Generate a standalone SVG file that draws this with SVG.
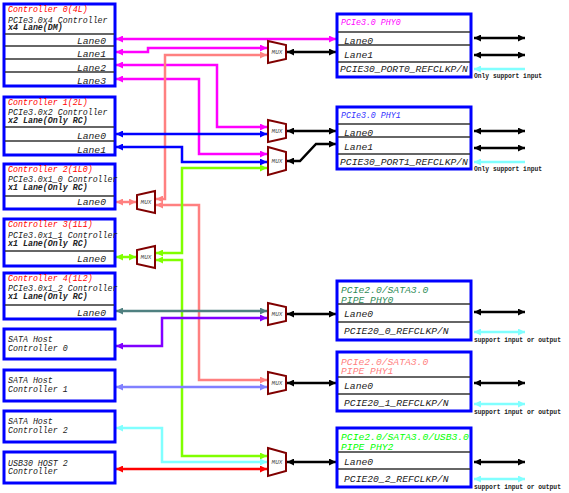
<svg xmlns="http://www.w3.org/2000/svg" width="569" height="493" viewBox="0 0 569 493">
<style>
.box{fill:#fff;stroke:#0000ff;stroke-width:3}
.div{stroke:#333;stroke-width:1.3}
.t{font-family:"Liberation Mono","DejaVu Sans Mono",monospace;font-style:italic;font-size:8.3px;fill:#222}
.b{font-weight:bold}
.red{fill:#ff0000}
.ln{font-family:"Liberation Mono","DejaVu Sans Mono",monospace;font-style:italic;font-size:9.7px;fill:#222}
.end{text-anchor:end}
.note{font-family:"Liberation Mono","DejaVu Sans Mono",monospace;font-size:6.3px;font-weight:bold;fill:#222}
.mux{fill:#fff;stroke:#800000;stroke-width:2}
.mt{font-family:"Liberation Mono","DejaVu Sans Mono",monospace;font-style:italic;font-size:6px;fill:#444;text-anchor:middle}
.c{fill:none;stroke-width:2.5}
.k{stroke:#000;marker-start:url(#ak);marker-end:url(#ak)}
.mag{stroke:#ff00ff;marker-start:url(#amag);marker-end:url(#amag)}
.sal{stroke:#ff8080;marker-start:url(#asal);marker-end:url(#asal)}
.blu{stroke:#0000ff;marker-start:url(#ablu);marker-end:url(#ablu)}
.grn{stroke:#80ff00;marker-start:url(#agrn);marker-end:url(#agrn)}
.tea{stroke:#4f8080;marker-start:url(#atea);marker-end:url(#atea)}
.pur{stroke:#8000ff;marker-start:url(#apur);marker-end:url(#apur)}
.lav{stroke:#8080ff;marker-start:url(#alav);marker-end:url(#alav)}
.cya{stroke:#80ffff;marker-start:url(#acya);marker-end:url(#acya)}
.cyi{stroke:#80ffff;marker-start:url(#acya)}
.rd{stroke:#ff0000;marker-start:url(#ard);marker-end:url(#ard)}
</style>
<defs>
<marker id="ak" viewBox="0 0 10 10" refX="10" refY="5" markerWidth="7" markerHeight="7" markerUnits="userSpaceOnUse" orient="auto-start-reverse"><path d="M0,0L10,5L0,10z" fill="#000"/></marker>
<marker id="amag" viewBox="0 0 10 10" refX="10" refY="5" markerWidth="7" markerHeight="7" markerUnits="userSpaceOnUse" orient="auto-start-reverse"><path d="M0,0L10,5L0,10z" fill="#ff00ff"/></marker>
<marker id="asal" viewBox="0 0 10 10" refX="10" refY="5" markerWidth="7" markerHeight="7" markerUnits="userSpaceOnUse" orient="auto-start-reverse"><path d="M0,0L10,5L0,10z" fill="#ff8080"/></marker>
<marker id="ablu" viewBox="0 0 10 10" refX="10" refY="5" markerWidth="7" markerHeight="7" markerUnits="userSpaceOnUse" orient="auto-start-reverse"><path d="M0,0L10,5L0,10z" fill="#0000ff"/></marker>
<marker id="agrn" viewBox="0 0 10 10" refX="10" refY="5" markerWidth="7" markerHeight="7" markerUnits="userSpaceOnUse" orient="auto-start-reverse"><path d="M0,0L10,5L0,10z" fill="#80ff00"/></marker>
<marker id="atea" viewBox="0 0 10 10" refX="10" refY="5" markerWidth="7" markerHeight="7" markerUnits="userSpaceOnUse" orient="auto-start-reverse"><path d="M0,0L10,5L0,10z" fill="#4f8080"/></marker>
<marker id="apur" viewBox="0 0 10 10" refX="10" refY="5" markerWidth="7" markerHeight="7" markerUnits="userSpaceOnUse" orient="auto-start-reverse"><path d="M0,0L10,5L0,10z" fill="#8000ff"/></marker>
<marker id="alav" viewBox="0 0 10 10" refX="10" refY="5" markerWidth="7" markerHeight="7" markerUnits="userSpaceOnUse" orient="auto-start-reverse"><path d="M0,0L10,5L0,10z" fill="#8080ff"/></marker>
<marker id="acya" viewBox="0 0 10 10" refX="10" refY="5" markerWidth="7" markerHeight="7" markerUnits="userSpaceOnUse" orient="auto-start-reverse"><path d="M0,0L10,5L0,10z" fill="#80ffff"/></marker>
<marker id="ard" viewBox="0 0 10 10" refX="10" refY="5" markerWidth="7" markerHeight="7" markerUnits="userSpaceOnUse" orient="auto-start-reverse"><path d="M0,0L10,5L0,10z" fill="#ff0000"/></marker>
</defs>
<rect width="569" height="493" fill="#fff"/>

<g id="connectors">
<path class="c mag" d="M116,39H336"/>
<path class="c mag" d="M116,52H148V48H267"/>
<path class="c mag" d="M116,65H217V127H267"/>
<path class="c mag" d="M116,79H199V154H267"/>
<path class="c sal" d="M267,55H165V199H156"/>
<path class="c sal" d="M136,202H116"/>
<path class="c sal" d="M156,205H199V380H267"/>
<path class="c blu" d="M116,134H267"/>
<path class="c blu" d="M116,147H182V162H267"/>
<path class="c grn" d="M267,168H182V253H156"/>
<path class="c grn" d="M136,257H116"/>
<path class="c grn" d="M156,260H182V456H267"/>
<path class="c tea" d="M116,311H267"/>
<path class="c pur" d="M267,318H162V346H116"/>
<path class="c lav" d="M116,387H267"/>
<path class="c cya" d="M116,428H162V462H267"/>
<path class="c rd" d="M116,469H267"/>
<path class="c k" d="M287,52H336"/>
<path class="c k" d="M287,131H336"/>
<path class="c k" d="M287,161H300L316,144H336"/>
<path class="c k" d="M287,314H336"/>
<path class="c k" d="M287,383H336"/>
<path class="c k" d="M287,462H336"/>
<path class="c k" d="M474,38H525"/>
<path class="c k" d="M474,55H525"/>
<path class="c cyi" d="M474,69H525"/>
<path class="c k" d="M474,131H525"/>
<path class="c k" d="M474,148H525"/>
<path class="c cyi" d="M474,162H525"/>
<path class="c k" d="M474,312H525"/>
<path class="c cya" d="M474,332H525"/>
<path class="c k" d="M474,383H525"/>
<path class="c cya" d="M474,404H525"/>
<path class="c k" d="M474,462H525"/>
<path class="c cya" d="M474,479H525"/>
</g>

<g id="ctrl0">
<rect class="box" x="4" y="4" width="111" height="82"/>
<line class="div" x1="5" y1="34" x2="114" y2="34"/>
<line class="div" x1="5" y1="46" x2="114" y2="46"/>
<line class="div" x1="5" y1="59" x2="114" y2="59"/>
<line class="div" x1="5" y1="72" x2="114" y2="72"/>
<text class="t red" x="8" y="11.5">Controller 0(4L)</text>
<text class="t" x="8" y="22.5">PCIe3.0x4 Controller</text>
<text class="t b" x="8" y="30">x4 Lane(DM)</text>
<text class="ln end" x="106" y="44">Lane0</text>
<text class="ln end" x="106" y="57">Lane1</text>
<text class="ln end" x="106" y="70.5">Lane2</text>
<text class="ln end" x="106" y="84">Lane3</text>
</g>
<g id="ctrl1">
<rect class="box" x="4" y="97" width="111" height="58"/>
<line class="div" x1="5" y1="127" x2="114" y2="127"/>
<line class="div" x1="5" y1="141" x2="114" y2="141"/>
<text class="t red" x="8" y="104.5">Controller 1(2L)</text>
<text class="t" x="8" y="115">PCIe3.0x2 Controller</text>
<text class="t b" x="8" y="122.5">x2 Lane(Only RC)</text>
<text class="ln end" x="106" y="138.5">Lane0</text>
<text class="ln end" x="106" y="152.5">Lane1</text>
</g>
<g id="ctrl2">
<rect class="box" x="4" y="164" width="111" height="45"/>
<line class="div" x1="5" y1="196" x2="114" y2="196"/>
<text class="t red" x="8" y="172">Controller 2(1L0)</text>
<text class="t" x="8" y="182">PCIe3.0x1_0 Controller</text>
<text class="t b" x="8" y="190">x1 Lane(Only RC)</text>
<text class="ln end" x="106" y="204.5">Lane0</text>
</g>
<g id="ctrl3">
<rect class="box" x="4" y="219" width="111" height="47"/>
<line class="div" x1="5" y1="251" x2="114" y2="251"/>
<text class="t red" x="8" y="227">Controller 3(1L1)</text>
<text class="t" x="8" y="238">PCIe3.0x1_1 Controller</text>
<text class="t b" x="8" y="246">x1 Lane(Only RC)</text>
<text class="ln end" x="106" y="261.5">Lane0</text>
</g>
<g id="ctrl4">
<rect class="box" x="4" y="273" width="111" height="46"/>
<line class="div" x1="5" y1="305" x2="114" y2="305"/>
<text class="t red" x="8" y="280.5">Controller 4(1L2)</text>
<text class="t" x="8" y="291">PCIe3.0x1_2 Controller</text>
<text class="t b" x="8" y="299">x1 Lane(Only RC)</text>
<text class="ln end" x="106" y="316">Lane0</text>
</g>
<g id="sata0">
<rect class="box" x="4" y="329" width="111" height="30"/>
<text class="t" x="8" y="342">SATA Host</text>
<text class="t" x="8" y="350.5">Controller 0</text>
</g>
<g id="sata1">
<rect class="box" x="4" y="370" width="111" height="31"/>
<text class="t" x="8" y="383">SATA Host</text>
<text class="t" x="8" y="391.5">Controller 1</text>
</g>
<g id="sata2">
<rect class="box" x="4" y="411" width="111" height="31"/>
<text class="t" x="8" y="424">SATA Host</text>
<text class="t" x="8" y="432.5">Controller 2</text>
</g>
<g id="usb30">
<rect class="box" x="4" y="452" width="111" height="31"/>
<text class="t" x="8" y="465.5">USB30 HOST 2</text>
<text class="t" x="8" y="474">Controller</text>
</g>

<g id="mux0"><polygon class="mux" points="268,41 286,45 286,59 268,63"/><text class="mt" x="277" y="54">MUX</text></g>
<g id="mux1"><polygon class="mux" points="268,120 286,124 286,138 268,142"/><text class="mt" x="277" y="133">MUX</text></g>
<g id="mux2"><polygon class="mux" points="268,147 286,152 286,170 268,175"/><text class="mt" x="277" y="163">MUX</text></g>
<g id="mux3"><polygon class="mux" points="268,303 286,307 286,321 268,325"/><text class="mt" x="277" y="316">MUX</text></g>
<g id="mux4"><polygon class="mux" points="268,372 286,376 286,390 268,394"/><text class="mt" x="277" y="385">MUX</text></g>
<g id="mux5"><polygon class="mux" points="268,448 286,453 286,471 268,476"/><text class="mt" x="277" y="464">MUX</text></g>
<g id="muxc2"><polygon class="mux" points="155,191 137,195 137,209 155,213"/><text class="mt" x="146" y="204">MUX</text></g>
<g id="muxc3"><polygon class="mux" points="155,246 137,250 137,264 155,268"/><text class="mt" x="146" y="259">MUX</text></g>

<g id="phy0">
<rect class="box" x="337" y="14" width="134" height="63"/>
<line class="div" x1="338" y1="32" x2="470" y2="32"/>
<line class="div" x1="338" y1="45" x2="470" y2="45"/>
<line class="div" x1="338" y1="62" x2="470" y2="62"/>
<text class="t" x="341" y="25" style="fill:#ff00ff">PCIe3.0 PHY0</text>
<text class="ln" x="344" y="44">Lane0</text>
<text class="ln" x="344" y="57.5">Lane1</text>
<text class="ln" x="340" y="72">PCIE30_PORT0_REFCLKP/N</text>
<text class="note" x="474" y="78">Only support input</text>
</g>
<g id="phy1">
<rect class="box" x="337" y="107" width="134" height="62"/>
<line class="div" x1="338" y1="124" x2="470" y2="124"/>
<line class="div" x1="338" y1="137" x2="470" y2="137"/>
<line class="div" x1="338" y1="154" x2="470" y2="154"/>
<text class="t" x="341" y="118" style="fill:#3333ff">PCIe3.0 PHY1</text>
<text class="ln" x="344" y="136">Lane0</text>
<text class="ln" x="344" y="150">Lane1</text>
<text class="ln" x="340" y="164.5">PCIE30_PORT1_REFCLKP/N</text>
<text class="note" x="474" y="171">Only support input</text>
</g>
<g id="pipephy0">
<rect class="box" x="337" y="281" width="134" height="59"/>
<line class="div" x1="338" y1="304" x2="470" y2="304"/>
<line class="div" x1="338" y1="322" x2="470" y2="322"/>
<text class="ln" x="341" y="293" style="fill:#2e8b57">PCIe2.0/SATA3.0</text>
<text class="ln" x="341" y="302.5" style="fill:#2e8b57">PIPE PHY0</text>
<text class="ln" x="344" y="317">Lane0</text>
<text class="ln" x="344" y="334">PCIE20_0_REFCLKP/N</text>
<text class="note" x="474" y="341.5">support input or output</text>
</g>
<g id="pipephy1">
<rect class="box" x="337" y="352" width="134" height="59"/>
<line class="div" x1="338" y1="377" x2="470" y2="377"/>
<line class="div" x1="338" y1="394" x2="470" y2="394"/>
<text class="ln" x="341" y="364.5" style="fill:#ff8080">PCIe2.0/SATA3.0</text>
<text class="ln" x="341" y="374" style="fill:#ff8080">PIPE PHY1</text>
<text class="ln" x="344" y="389">Lane0</text>
<text class="ln" x="344" y="406">PCIE20_1_REFCLKP/N</text>
<text class="note" x="474" y="413.5">support input or output</text>
</g>
<g id="pipephy2">
<rect class="box" x="337" y="428" width="134" height="59"/>
<line class="div" x1="338" y1="452" x2="470" y2="452"/>
<line class="div" x1="338" y1="469" x2="470" y2="469"/>
<text class="ln" x="341" y="440" style="fill:#00ff00">PCIe2.0/SATA3.0/USB3.0</text>
<text class="ln" x="341" y="450" style="fill:#00ff00">PIPE PHY2</text>
<text class="ln" x="344" y="465">Lane0</text>
<text class="ln" x="344" y="482">PCIE20_2_REFCLKP/N</text>
<text class="note" x="474" y="488.5">support input or output</text>
</g>
</svg>
